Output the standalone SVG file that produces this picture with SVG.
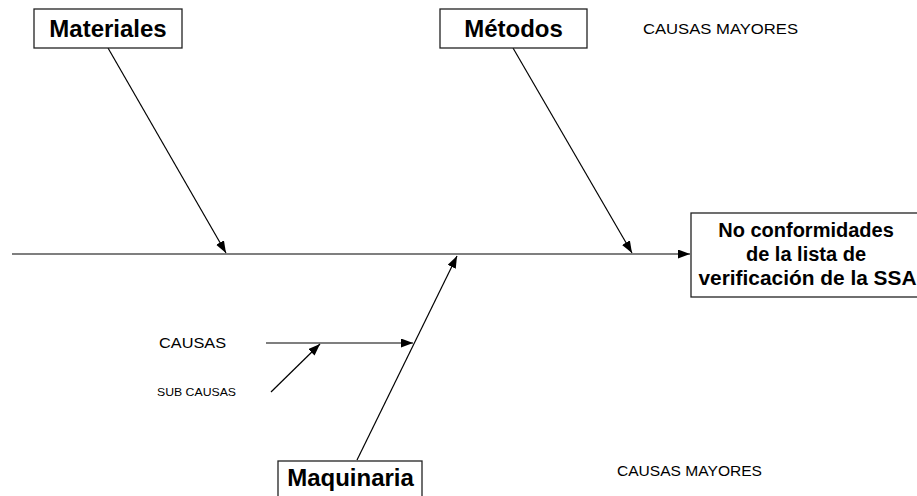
<svg xmlns="http://www.w3.org/2000/svg" width="917" height="496" viewBox="0 0 917 496">
<defs>
<marker id="ah" markerWidth="12" markerHeight="9" refX="12" refY="4.5" orient="auto" markerUnits="userSpaceOnUse">
<path d="M0,0 L12,4.5 L0,9 Z" fill="#000"/>
</marker>
<style>
.box{fill:#fff;stroke:#222;stroke-width:1.3}
.big{font-family:"Liberation Sans",Arial,sans-serif;font-weight:bold;font-size:24px;fill:#000;text-anchor:middle}
.eff{font-family:"Liberation Sans",Arial,sans-serif;font-weight:bold;font-size:20px;fill:#000;text-anchor:middle}
.lbl{font-family:"Liberation Sans",Arial,sans-serif;font-size:15px;fill:#000}
.sm{font-family:"Liberation Sans",Arial,sans-serif;font-size:10.5px;fill:#000}
.ln{stroke:#000;stroke-width:1.2;fill:none}
</style>
</defs>
<rect width="917" height="496" fill="#fff"/>
<g id="connectors">
<line class="ln" x1="12" y1="254" x2="690" y2="254" marker-end="url(#ah)"/>
<line class="ln" x1="108" y1="48" x2="226" y2="253" marker-end="url(#ah)"/>
<line class="ln" x1="513" y1="48" x2="632" y2="253" marker-end="url(#ah)"/>
<line class="ln" x1="357" y1="460" x2="457" y2="256" marker-end="url(#ah)"/>
<line class="ln" x1="266" y1="343" x2="413" y2="343" marker-end="url(#ah)"/>
<line class="ln" x1="271" y1="392" x2="320" y2="344" marker-end="url(#ah)"/>
</g>
<g id="materiales">
<rect class="box" x="34" y="9" width="148" height="39"/>
<text class="big" x="108" y="37">Materiales</text>
</g>
<g id="metodos">
<rect class="box" x="440" y="9" width="147" height="39"/>
<text class="big" x="513.5" y="37">Métodos</text>
</g>
<g id="maquinaria">
<rect class="box" x="278" y="461" width="144" height="45"/>
<text class="big" x="350.5" y="486">Maquinaria</text>
</g>
<g id="efecto">
<rect class="box" x="691" y="213" width="240" height="84"/>
<text class="eff" x="806" y="237">No conformidades</text>
<text class="eff" x="806" y="261">de la lista de</text>
<text class="eff" x="807.5" y="285" textLength="218" lengthAdjust="spacingAndGlyphs">verificación de la SSA</text>
</g>
<g id="labels">
<text class="lbl" x="643" y="34" textLength="155" lengthAdjust="spacingAndGlyphs">CAUSAS MAYORES</text>
<text class="lbl" x="617" y="476" textLength="145" lengthAdjust="spacingAndGlyphs">CAUSAS MAYORES</text>
<text class="lbl" x="159" y="348" textLength="67" lengthAdjust="spacingAndGlyphs">CAUSAS</text>
<text class="sm" x="157" y="396" textLength="79" lengthAdjust="spacingAndGlyphs">SUB CAUSAS</text>
</g>
</svg>
